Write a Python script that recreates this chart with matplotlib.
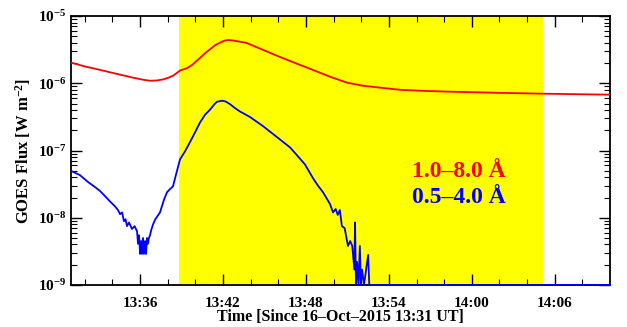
import matplotlib
matplotlib.use("Agg")
import matplotlib.pyplot as plt
import numpy as np
from matplotlib.ticker import FixedLocator, LogFormatterSciNotation, NullFormatter

plt.rcParams['font.family'] = ['Liberation Serif', 'DejaVu Serif']
plt.rcParams['font.weight'] = 'bold'
plt.rcParams['mathtext.fontset'] = 'custom'
plt.rcParams['mathtext.rm'] = 'Liberation Serif:bold'
plt.rcParams['mathtext.it'] = 'Liberation Serif:bold:italic'
plt.rcParams['mathtext.bf'] = 'Liberation Serif:bold'
plt.rcParams['mathtext.default'] = 'rm'

# minutes since 13:31 UT
t_long = [0.07, 1.0, 2.1, 3.3, 4.5, 5.2, 5.7, 6.2, 6.66, 7.1, 7.4, 7.9, 8.4,
          8.8, 9.3, 9.7, 10.06, 10.4, 10.8, 11.1, 11.36, 11.8, 12.7, 13.9,
          15.1, 16.35, 17.5, 18.74, 19.97, 21.1, 22.36, 23.8, 25.5, 27.4,
          31.0, 34.15, 39.0]
flux_long = [2.01e-6, 1.78e-6, 1.58e-6, 1.38e-6, 1.21e-6, 1.13e-6, 1.09e-6,
             1.1e-6, 1.14e-6, 1.22e-6, 1.30e-6, 1.55e-6, 1.68e-6, 1.9e-6,
             2.35e-6, 2.8e-6, 3.2e-6, 3.65e-6, 4.05e-6, 4.3e-6, 4.4e-6,
             4.3e-6, 3.98e-6, 3.13e-6, 2.47e-6, 1.95e-6, 1.58e-6, 1.25e-6,
             1.02e-6, 9.2e-7, 8.6e-7, 8.0e-7, 7.7e-7, 7.5e-7, 7.2e-7, 7.0e-7,
             6.76e-7]

t_short = [0.07, 0.65, 1.23, 1.7, 2.1, 2.46, 2.82, 3.18, 3.4, 3.55, 3.7, 3.83,
           3.95, 4.05, 4.2, 4.41, 4.6, 4.78, 4.85, 4.92, 5.0, 5.07, 5.14,
           5.21, 5.28, 5.36, 5.43, 5.5, 5.57, 5.64, 5.72, 5.8, 5.93, 6.1,
           6.44, 6.73, 6.95, 7.16, 7.38, 7.6, 7.89, 8.25, 8.6, 8.97, 9.33,
           9.7, 10.06, 10.35, 10.56, 10.93, 11.2, 11.5, 11.85, 12.23, 12.95,
           13.9, 15.12, 15.85, 16.35, 16.93, 17.5, 17.87, 18.23, 18.74,
           18.96, 19.15, 19.3, 19.45, 19.6, 19.8, 20.04, 20.2, 20.35, 20.5,
           20.55, 20.62, 20.7, 20.8, 20.9, 20.97, 21.05, 21.2, 21.35, 21.5,
           21.58, 21.65, 30.0, 39.0]
flux_short = [4.9e-8, 4.3e-8, 3.4e-8, 2.9e-8, 2.5e-8, 2.1e-8, 1.75e-8,
              1.48e-8, 1.3e-8, 1.13e-8, 1.2e-8, 8.9e-9, 9.5e-9, 7.5e-9,
              8.5e-9, 6.8e-9, 7.5e-9, 6.3e-9, 4.1e-9, 5.5e-9, 2.9e-9,
              4.5e-9, 2.9e-9, 5.0e-9, 2.9e-9, 4.5e-9, 2.9e-9, 5.0e-9,
              4.1e-9, 5.0e-9, 5.5e-9, 6.5e-9, 7.9e-9, 9.5e-9, 1.2e-8,
              1.86e-8, 2.4e-8, 2.66e-8, 2.93e-8, 4.4e-8, 7.4e-8, 9.7e-8,
              1.32e-7, 1.85e-7, 2.6e-7, 3.4e-7, 4.05e-7, 4.8e-7, 5.3e-7,
              5.5e-7, 5.35e-7, 4.9e-7, 4.3e-7, 3.8e-7, 3.15e-7, 2.3e-7,
              1.46e-7, 1.11e-7, 8.5e-8, 6.2e-8, 3.9e-8, 3.0e-8, 2.4e-8,
              1.6e-8, 1.2e-8, 1.35e-8, 1.1e-8, 1.3e-8, 7.5e-9, 7.0e-9,
              3.8e-9, 4.5e-9, 3.8e-9, 1.7e-9, 8.5e-9, 1.0e-9, 2.2e-9,
              1.0e-9, 3.8e-9, 1.0e-9, 1.7e-9, 1.0e-9, 1.7e-9, 2.8e-9,
              1.0e-9, 1.0e-9, 1.0e-9, 1.0e-9]

span_start, span_end = 7.8, 34.15
major_t = [5, 11, 17, 23, 29, 35]
major_labels = ['13:36', '13:42', '13:48', '13:54', '14:00', '14:06']
decades = [1e-9, 1e-8, 1e-7, 1e-6, 1e-5]

fig = plt.figure(figsize=(6.27, 3.27), dpi=100)
ax = fig.add_axes([0.1132, 0.1285, 0.8598, 0.8225])

ax.axvspan(span_start, span_end, color='#ffff00', lw=0, zorder=0)
ax.plot(t_long, flux_long, color='#ff0000', lw=1.3, zorder=3)
ax.plot(t_short, flux_short, color='#0000ff', lw=1.3, zorder=3, clip_on=False)

ax.set_yscale('log')
ax.set_xlim(0, 39)
ax.set_ylim(1e-9, 1e-5)

ax.xaxis.set_major_locator(FixedLocator(major_t))
ax.set_xticklabels(major_labels)
ax.xaxis.set_minor_locator(FixedLocator(np.arange(1, 39, 2)))
minor_y = [m * d for d in decades[:-1] for m in range(2, 10)]
ax.yaxis.set_major_locator(FixedLocator(decades))
ax.yaxis.set_major_formatter(LogFormatterSciNotation())
ax.yaxis.set_minor_locator(FixedLocator(minor_y))
ax.yaxis.set_minor_formatter(NullFormatter())

ax.tick_params(which='both', direction='in', top=True, right=True,
               labelsize=11, color='black')
ax.tick_params(which='major', length=8, width=1)
ax.tick_params(which='minor', length=4, width=0.8)
ax.tick_params(axis='x', which='major', pad=9)
for s in ax.spines.values():
    s.set_linewidth(1.3)

ax.set_xlabel('Time [Since 16\u2013Oct\u20132015 13:31 UT]', fontsize=11.5,
              fontweight='bold', labelpad=-1)
ax.set_ylabel('GOES Flux [W m$^{-2}$]', fontsize=12, fontweight='bold',
              labelpad=3)

ax.text(0.632, 0.40, '1.0\u20138.0 \u00c5', transform=ax.transAxes,
        color='#ff0000', fontsize=17, fontweight='bold', ha='left',
        va='baseline')
ax.text(0.632, 0.303, '0.5\u20134.0 \u00c5', transform=ax.transAxes,
        color='#0000ff', fontsize=17, fontweight='bold', ha='left',
        va='baseline')

fig.savefig('out.png', dpi=100)
